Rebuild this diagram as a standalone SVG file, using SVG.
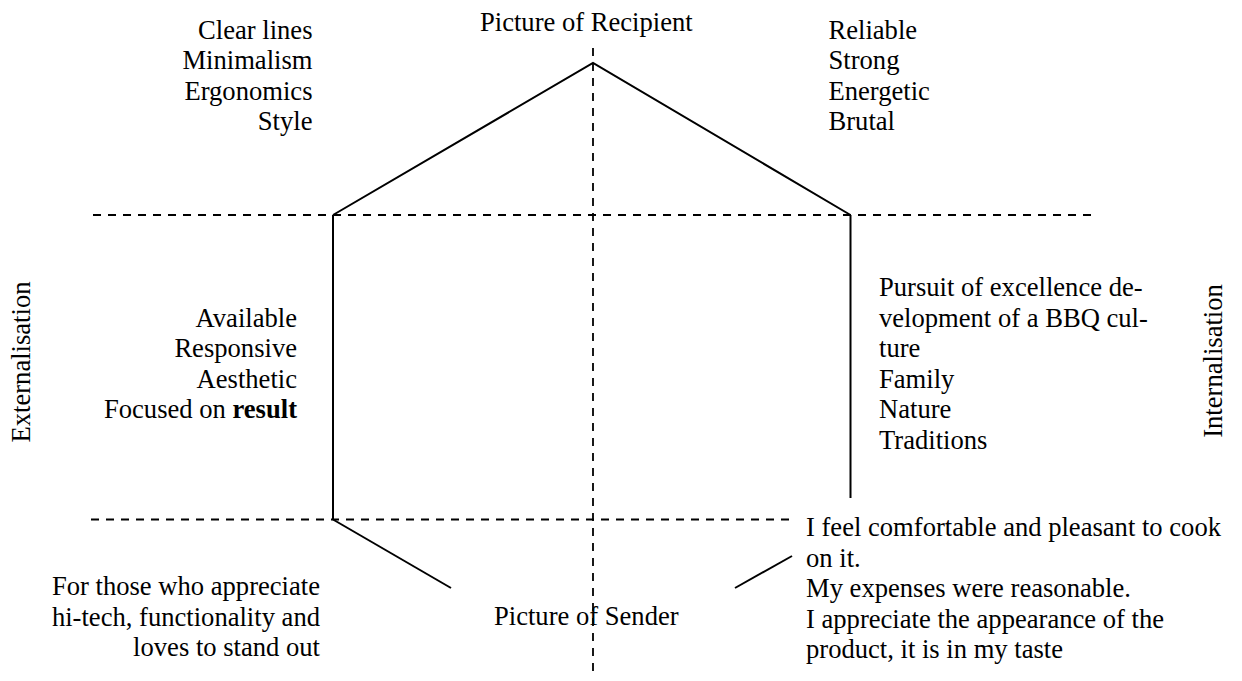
<svg xmlns="http://www.w3.org/2000/svg" width="1242" height="681" viewBox="0 0 1242 681">
  <style>
    text { font-family: "Liberation Serif", "Times New Roman", serif; font-size: 26.6px; fill: #000; }
    .end { text-anchor: end; }
    .mid { text-anchor: middle; }
    .axis { stroke: #000; stroke-width: 1.8; stroke-dasharray: 8 7; fill: none; }
    .edge { stroke: #000; stroke-width: 2; fill: none; stroke-linecap: butt; }
  </style>
  <rect width="1242" height="681" fill="#fff"/>

  <!-- axes and outline -->
  <g id="connectors">
    <line class="axis" x1="593" y1="48" x2="593" y2="678"/>
    <line class="axis" x1="93" y1="215" x2="1093" y2="215"/>
    <line class="axis" x1="91" y1="519.5" x2="791" y2="519.5"/>
    <polyline class="edge" points="333,215 593,63 850.5,215"/>
    <line class="edge" x1="333" y1="215" x2="333" y2="519.5"/>
    <line class="edge" x1="850.5" y1="215" x2="850.5" y2="498"/>
    <line class="edge" x1="333" y1="519.5" x2="451" y2="588"/>
    <line class="edge" x1="735" y1="588" x2="792" y2="556"/>
  </g>

  <g id="recipient">
    <text x="480" y="31">Picture of Recipient</text>
  </g>

  <g id="sender">
    <text x="494" y="625">Picture of Sender</text>
  </g>

  <g id="externalisation">
    <text class="mid" transform="translate(30,362) rotate(-90)">Externalisation</text>
  </g>

  <g id="internalisation">
    <text class="mid" transform="translate(1222,361) rotate(-90)">Internalisation</text>
  </g>

  <g id="top-left">
    <text class="end" x="312.5" y="38.5">Clear lines</text>
    <text class="end" x="312.5" y="69.1">Minimalism</text>
    <text class="end" x="312.5" y="99.7">Ergonomics</text>
    <text class="end" x="312.5" y="130.3">Style</text>
  </g>

  <g id="top-right">
    <text x="828.5" y="38.5">Reliable</text>
    <text x="828.5" y="69.1">Strong</text>
    <text x="828.5" y="99.7">Energetic</text>
    <text x="828.5" y="130.3">Brutal</text>
  </g>

  <g id="middle-left">
    <text class="end" x="297" y="326.5">Available</text>
    <text class="end" x="297" y="357.1">Responsive</text>
    <text class="end" x="297" y="387.7">Aesthetic</text>
    <text class="end" x="297" y="418.3">Focused on <tspan font-weight="bold">result</tspan></text>
  </g>

  <g id="middle-right">
    <text x="879" y="296">Pursuit of excellence de-</text>
    <text x="879" y="326.6">velopment of a BBQ cul-</text>
    <text x="879" y="357.2">ture</text>
    <text x="879" y="387.8">Family</text>
    <text x="879" y="418.4">Nature</text>
    <text x="879" y="449">Traditions</text>
  </g>

  <g id="bottom-left">
    <text class="end" x="320" y="595">For those who appreciate</text>
    <text class="end" x="320" y="625.6">hi-tech, functionality and</text>
    <text class="end" x="320" y="656.2">loves to stand out</text>
  </g>

  <g id="bottom-right">
    <text x="806" y="536">I feel comfortable and pleasant to cook</text>
    <text x="806" y="566.6">on it.</text>
    <text x="806" y="597.2">My expenses were reasonable.</text>
    <text x="806" y="627.8">I appreciate the appearance of the</text>
    <text x="806" y="658.4">product, it is in my taste</text>
  </g>
</svg>
